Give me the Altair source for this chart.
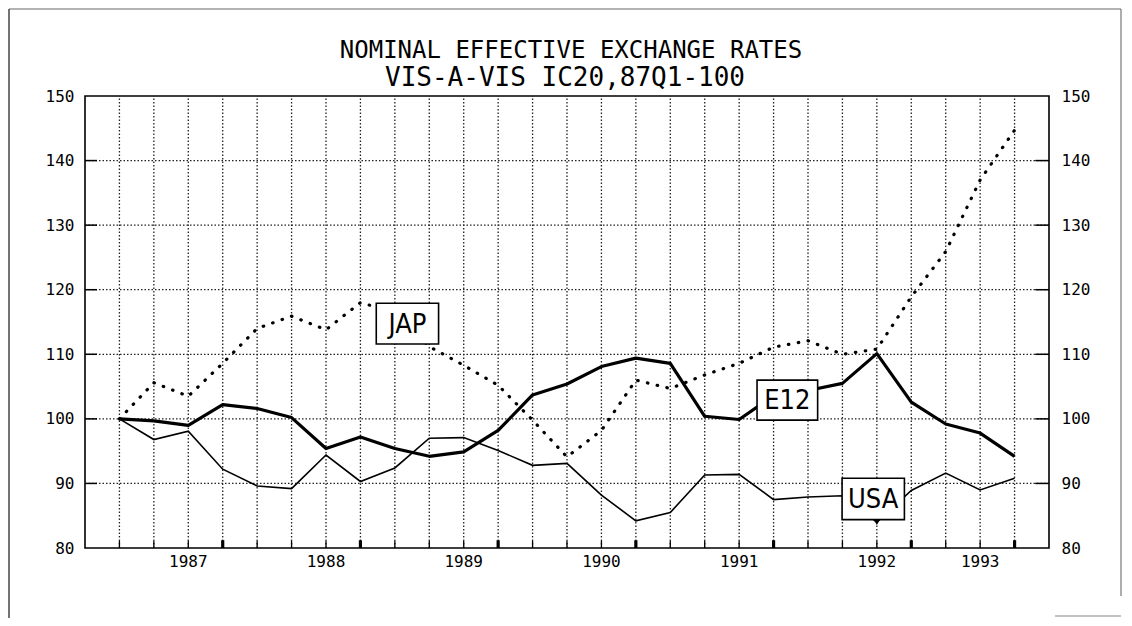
import altair as alt
import pandas as pd

# ---- data ----
quarters = ["87Q1", "87Q2", "87Q3", "87Q4", "88Q1", "88Q2", "88Q3", "88Q4",
            "89Q1", "89Q2", "89Q3", "89Q4", "90Q1", "90Q2", "90Q3", "90Q4",
            "91Q1", "91Q2", "91Q3", "91Q4", "92Q1", "92Q2", "92Q3", "92Q4",
            "93Q1", "93Q2", "93Q3"]
e12 = [100.0, 99.7, 99.0, 102.2, 101.6, 100.2, 95.4, 97.2, 95.4, 94.2,
       94.9, 98.2, 103.7, 105.4, 108.1, 109.4, 108.6, 100.4, 99.9, 103.6,
       104.4, 105.5, 110.1, 102.6, 99.2, 97.8, 94.2]
usa = [100.0, 96.8, 98.1, 92.2, 89.6, 89.2, 94.4, 90.3, 92.4, 97.0,
       97.1, 95.1, 92.8, 93.1, 88.2, 84.2, 85.5, 91.3, 91.4, 87.5,
       87.9, 88.1, 84.0, 88.9, 91.6, 89.0, 90.8]
jap = [100.0, 105.6, 103.5, 108.6, 114.0, 115.9, 113.8, 118.0, 116.5, 111.2,
       108.3, 105.2, 99.8, 94.1, 98.2, 106.0, 104.7, 106.8, 108.6, 111.1,
       112.1, 110.0, 110.8, 118.9, 125.9, 137.0, 144.7]

year_labels = ["1987", "1988", "1989", "1990", "1991", "1992", "1993"]
year_label_pos = [2, 6, 10, 14, 18, 22, 25]
year_break_pos = [3, 7, 11, 15, 19, 23, 26]
y_ticks = [80, 90, 100, 110, 120, 130, 140, 150]

title_lines = ["NOMINAL EFFECTIVE EXCHANGE RATES", "VIS-A-VIS IC20,87Q1-100"]

# annotation boxes (in data units)
box_label = ["JAP", "E12", "USA"]
box_x0 = [7.46, 18.52, 20.99]
box_x1 = [9.27, 20.28, 22.80]
box_y0 = [111.6, 99.8, 84.4]
box_y1 = [117.9, 106.0, 90.8]

FONT_MONO = "DejaVu Sans Mono"
FONT_BOX = "Liberation Sans Narrow, DejaVu Sans Condensed, DejaVu Sans"

W, H = 964, 452

k = list(range(len(quarters)))
df = pd.DataFrame({"k": k, "quarter": quarters, "E12": e12, "USA": usa, "JAP": jap})
df_grid_x = pd.DataFrame({"k": k})
df_grid_y = pd.DataFrame({"v": y_ticks[1:-1]})
df_breaks = pd.DataFrame({"k": year_break_pos})
df_years = pd.DataFrame({"k": year_label_pos, "label": year_labels})
df_boxes = pd.DataFrame({"label": box_label, "x0": box_x0, "x1": box_x1,
                         "y0": box_y0, "y1": box_y1})
df_boxes["xc"] = (df_boxes.x0 + df_boxes.x1) / 2
df_boxes["yc"] = (df_boxes.y0 + df_boxes.y1) / 2
one = pd.DataFrame({"a": [0]})

xs = alt.Scale(domain=[-1, 27], nice=False, zero=False)
ys = alt.Scale(domain=[80, 150], nice=False, zero=False)

y_left = alt.Axis(values=y_ticks, domain=False, ticks=False, grid=False, labelFont=FONT_MONO,
                  labelFontSize=16, labelColor="black", labelPadding=11, title=None, orient="left")
y_right = alt.Axis(values=y_ticks, domain=False, ticks=False, grid=False, labelFont=FONT_MONO,
                   labelFontSize=16, labelColor="black", labelPadding=12, title=None, orient="right")

grid_style = dict(color="#222", strokeWidth=1.3, strokeDash=[1.5, 2])

vgrid = alt.Chart(df_grid_x).mark_rule(**grid_style).encode(
    x=alt.X("k:Q", scale=xs, axis=None),
    y=alt.YDatum(80, scale=ys, axis=None),
    y2=alt.Y2Datum(150),
)
hgrid = alt.Chart(df_grid_y).mark_rule(**grid_style).encode(
    y=alt.Y("v:Q", scale=ys, axis=None),
    x=alt.XDatum(-1, scale=xs, axis=None),
    x2=alt.X2Datum(27),
)
ltick = alt.Chart(df_grid_y).mark_rule(color="black", strokeWidth=1.5).encode(
    y=alt.Y("v:Q", scale=ys, axis=None),
    x=alt.XDatum(-1, scale=xs, axis=None),
    x2=alt.X2Datum(-0.65),
)
rtick = alt.Chart(df_grid_y).mark_rule(color="black", strokeWidth=1.5).encode(
    y=alt.Y("v:Q", scale=ys, axis=None),
    x=alt.XDatum(26.6, scale=xs, axis=None),
    x2=alt.X2Datum(27),
)
btick = alt.Chart(df_grid_x).mark_rule(color="black", strokeWidth=1.3).encode(
    x=alt.X("k:Q", scale=xs, axis=None),
    y=alt.YDatum(80, scale=ys, axis=None),
    y2=alt.Y2Datum(81.1),
)
bbreak = alt.Chart(df_breaks).mark_rule(color="black", strokeWidth=3.2).encode(
    x=alt.X("k:Q", scale=xs, axis=None),
    y=alt.YDatum(80, scale=ys, axis=None),
    y2=alt.Y2Datum(81.2),
)
year_text = alt.Chart(df_years).mark_text(font=FONT_MONO, fontSize=16, color="black",
                                          align="center", baseline="middle", dy=14).encode(
    x=alt.X("k:Q", scale=xs, axis=None),
    y=alt.YDatum(80, scale=ys, axis=None),
    text="label:N",
)

line_jap = alt.Chart(df).mark_line(color="black", strokeWidth=3.2, strokeDash=[0.5, 9.5],
                                   strokeCap="round").encode(
    x=alt.X("k:Q", scale=xs, axis=None),
    y=alt.Y("JAP:Q", scale=ys, axis=None),
)
line_usa = alt.Chart(df).mark_line(color="black", strokeWidth=1.6).encode(
    x=alt.X("k:Q", scale=xs, axis=None),
    y=alt.Y("USA:Q", scale=ys, axis=y_right),
)
line_e12 = alt.Chart(df).mark_line(color="black", strokeWidth=3.2, strokeJoin="round").encode(
    x=alt.X("k:Q", scale=xs, axis=None),
    y=alt.Y("E12:Q", scale=ys, axis=y_left),
)

boxes = alt.Chart(df_boxes).mark_rect(fill="white", stroke="black", strokeWidth=1.6).encode(
    x=alt.X("x0:Q", scale=xs, axis=None), x2="x1:Q",
    y=alt.Y("y0:Q", scale=ys, axis=None), y2="y1:Q",
)
box_text = alt.Chart(df_boxes).mark_text(font=FONT_BOX, fontSize=27, color="black",
                                         align="center", baseline="middle", dy=1).encode(
    x=alt.X("xc:Q", scale=xs, axis=None),
    y=alt.Y("yc:Q", scale=ys, axis=None),
    text="label:N",
)
usa_ptr = alt.Chart(df[df.k == 22]).mark_point(shape="triangle-down", filled=True, color="black",
                                               size=45, opacity=1).encode(
    x=alt.X("k:Q", scale=xs, axis=None),
    y=alt.Y("USA:Q", scale=ys, axis=None),
)

title1 = alt.Chart(one).mark_text(text=title_lines[0], font=FONT_MONO, fontSize=24, color="black",
                                  align="center", baseline="alphabetic").encode(
    x=alt.value(486), y=alt.value(-38))
title2 = alt.Chart(one).mark_text(text=title_lines[1], font=FONT_MONO, fontSize=26, color="black",
                                  align="center", baseline="alphabetic").encode(
    x=alt.value(480), y=alt.value(-10))

frame_t = alt.Chart(one).mark_rule(color="#666", strokeWidth=1.2).encode(
    x=alt.value(-76), x2=alt.value(1036), y=alt.value(-87), y2=alt.value(-87))
frame_l = alt.Chart(one).mark_rule(color="#444", strokeWidth=1.5).encode(
    x=alt.value(-76), x2=alt.value(-76), y=alt.value(-87), y2=alt.value(522))
frame_r = alt.Chart(one).mark_rule(color="#777", strokeWidth=1.2).encode(
    x=alt.value(1036), x2=alt.value(1036), y=alt.value(-87), y2=alt.value(500))
frame_b = alt.Chart(one).mark_rule(color="#888", strokeWidth=1.2).encode(
    x=alt.value(970), x2=alt.value(1036), y=alt.value(520), y2=alt.value(520))

chart = alt.layer(
    vgrid, hgrid, ltick, rtick, btick, bbreak, year_text,
    line_jap, line_usa, line_e12, boxes, box_text, usa_ptr,
    title1, title2, frame_t, frame_l, frame_r, frame_b,
).resolve_axis(y="independent").properties(
    width=W, height=H,
    autosize=alt.AutoSizeParams(type="none"),
    padding={"left": 77, "top": 88, "right": 74, "bottom": 70},
    background="white",
).configure_view(stroke="black", strokeWidth=1.6)

chart.save("out.html", embed_options={"renderer": "svg", "actions": False})
